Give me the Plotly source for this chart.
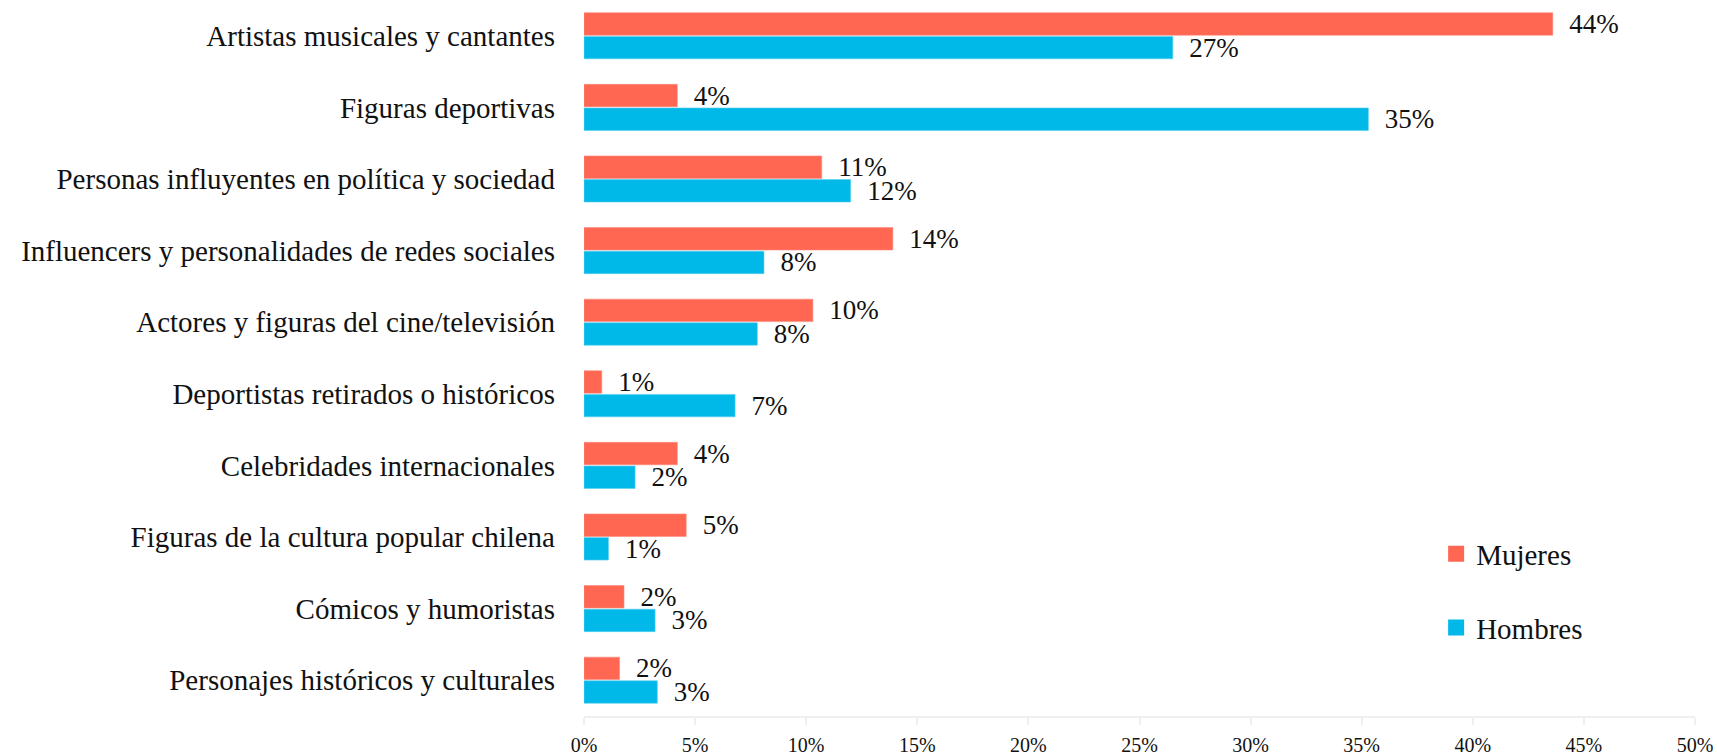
import plotly.graph_objects as go

categorias = [
    "Artistas musicales y cantantes",
    "Figuras deportivas",
    "Personas influyentes en política y sociedad",
    "Influencers y personalidades de redes sociales",
    "Actores y figuras del cine/televisión",
    "Deportistas retirados o históricos",
    "Celebridades internacionales",
    "Figuras de la cultura popular chilena",
    "Cómicos y humoristas",
    "Personajes históricos y culturales",
]
mujeres = [0.436, 0.042, 0.107, 0.139, 0.103, 0.008, 0.042, 0.046, 0.018, 0.016]
hombres = [0.265, 0.353, 0.120, 0.081, 0.078, 0.068, 0.023, 0.011, 0.032, 0.033]
ticks_x = [0, 0.05, 0.10, 0.15, 0.20, 0.25, 0.30, 0.35, 0.40, 0.45, 0.50]

FONT = "Liberation Serif"
ROJO = "#FF6753"
AZUL = "#00B9E8"

data = [
    go.Bar(y=categorias, x=mujeres, name="Mujeres", orientation="h",
           marker=dict(color=ROJO, line=dict(color="#FF8A7A", width=0.6)),
           texttemplate="  %{x:.0%}", textposition="outside",
           textfont=dict(family=FONT, size=27, color="#111111"),
           cliponaxis=False, constraintext="none", showlegend=False),
    go.Bar(y=categorias, x=hombres, name="Hombres", orientation="h",
           marker=dict(color=AZUL, line=dict(color="#5BD0F0", width=0.6)),
           texttemplate="  %{x:.0%}", textposition="outside",
           textfont=dict(family=FONT, size=27, color="#111111"),
           cliponaxis=False, constraintext="none", showlegend=False),
    # legend entries with bigger square symbols
    go.Scatter(x=[None], y=[None], mode="markers", name="Mujeres",
               marker=dict(symbol="square", size=16, color=ROJO),
               legendgroup="m"),
    go.Scatter(x=[None], y=[None], mode="markers", name="Hombres",
               marker=dict(symbol="square", size=16, color=AZUL),
               legendgroup="h"),
]

layout = go.Layout(
    width=1717, height=756,
    margin=dict(l=584, r=22, t=0, b=40, autoexpand=False),
    paper_bgcolor="white", plot_bgcolor="white",
    barmode="group", bargap=0.34, bargroupgap=0.05,
    font=dict(family=FONT, color="#111111"),
    xaxis=dict(range=[0, 0.5], tickvals=ticks_x, tickformat=".0%",
               showgrid=False, zeroline=False, showline=True,
               linecolor="#EFEFEF", linewidth=1.5, ticks="outside",
               ticklen=7, tickcolor="#EFEFEF", tickwidth=1.5,
               tickfont=dict(family=FONT, size=20, color="#111111"),
               ticklabelstandoff=3, automargin=False),
    yaxis=dict(autorange="reversed", showgrid=False, showline=False,
               ticks="", ticklabelstandoff=28, automargin=False,
               tickfont=dict(family=FONT, size=29, color="#111111")),
    legend=dict(x=0.767, y=0.262, xanchor="left", yanchor="top",
                traceorder="grouped", tracegroupgap=33,
                itemwidth=30,
                font=dict(family=FONT, size=29, color="#111111"),
                bgcolor="rgba(0,0,0,0)"),
    showlegend=True,
)

fig = go.Figure(data=data, layout=layout)
fig.write_html("out.html", config={"displayModeBar": False},
               post_script="document.body.style.margin='0';")
